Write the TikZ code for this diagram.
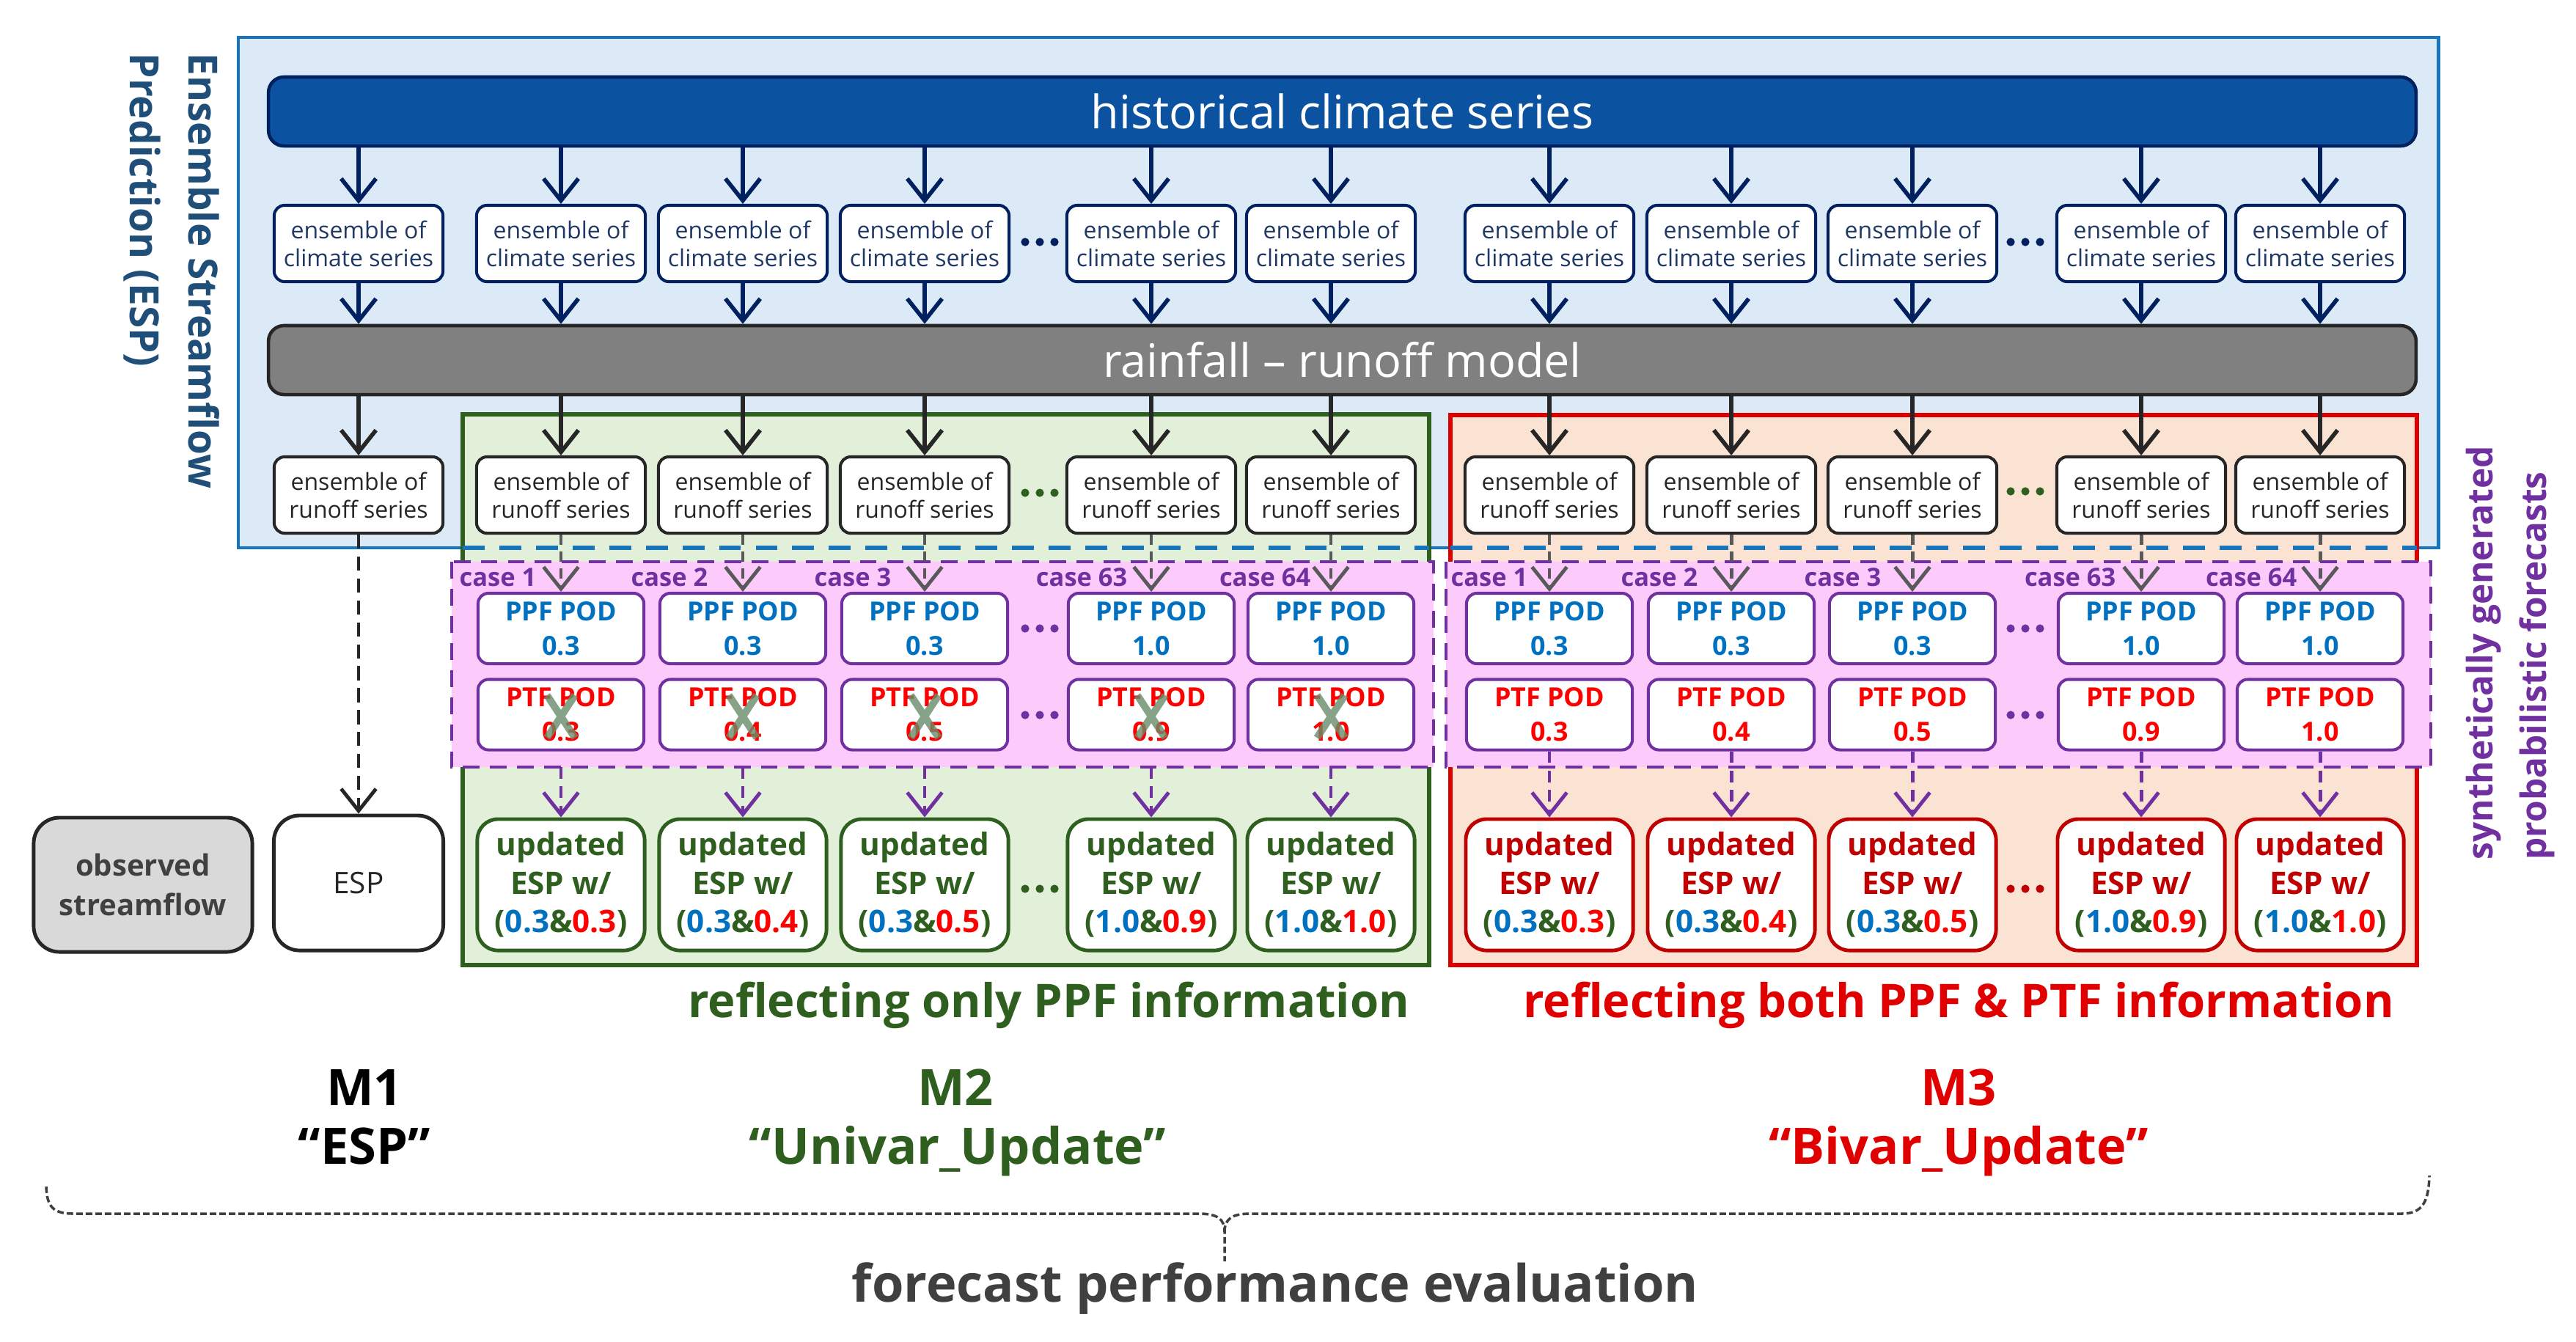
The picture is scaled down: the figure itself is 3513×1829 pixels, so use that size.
\documentclass[tikz,border=0pt]{standalone}
\usepackage{fontspec}
\setmainfont{Open Sans}
\usetikzlibrary{arrows.meta}
\definecolor{navy}{HTML}{002060}
\definecolor{navytxt}{HTML}{1F3864}
\definecolor{barblue}{HTML}{0B53A0}
\definecolor{outerblue}{HTML}{1874BB}
\definecolor{outerfill}{HTML}{DCEAF7}
\definecolor{gbarfill}{HTML}{808080}
\definecolor{dk}{HTML}{262626}
\definecolor{dgreen}{HTML}{2F5F1F}
\definecolor{gfill}{HTML}{E2F0D9}
\definecolor{rborder}{HTML}{DC0000}
\definecolor{rtext}{HTML}{E00000}
\definecolor{rfill}{HTML}{FBE3D4}
\definecolor{pinkf}{HTML}{FCCBFC}
\definecolor{purp}{HTML}{7030A0}
\definecolor{ppfblue}{HTML}{0070C0}
\definecolor{ptfred}{HTML}{FF0000}
\definecolor{dred}{HTML}{C00000}
\definecolor{txtgray}{HTML}{404040}
\definecolor{xgreen}{HTML}{6A8C6A}
\definecolor{obsfill}{HTML}{D9D9D9}
\definecolor{dashgray}{HTML}{595959}
\definecolor{enstxt}{HTML}{1F4E79}
\tikzset{
  climbox/.style={draw=navy, line width=1.15pt, fill=white, rounded corners=4pt,
    minimum width=2.3cm, minimum height=1.04cm, inner sep=0pt, align=center,
    text=navytxt, font=\fontsize{9.1}{10.8}\selectfont},
  runbox/.style={climbox, draw=dk, text=dk},
  podbox/.style={draw=purp, line width=1.15pt, fill=white, rounded corners=4pt,
    minimum width=2.26cm, minimum height=0.96cm, inner sep=0pt, align=center,
    font=\bfseries\fontsize{10.2}{13.4}\selectfont},
  ppfbox/.style={podbox, text=ppfblue},
  ptfbox/.style={podbox, text=ptfred},
  updbox/.style={draw=dgreen, line width=1.4pt, fill=white, rounded corners=8pt,
    minimum width=2.28cm, minimum height=1.79cm, inner sep=0pt, align=center,
    text=dgreen, font=\bfseries\fontsize{12}{15}\selectfont},
  updboxr/.style={updbox, draw=dred, text=dred},
  bar/.style={line width=1.3pt, rounded corners=6pt, minimum width=29.27cm,
    minimum height=0.94cm, inner sep=0pt, text=white, font=\fontsize{17.9}{20}\selectfont},
  arrowhd/.style={-{Straight Barb[length=8.5pt,width=13.5pt]}},
  solidarr/.style={arrowhd, line width=1.6pt},
  grayarr/.style={arrowhd, line width=1.4pt, draw=dashgray, dash pattern=on 4pt off 2.5pt},
  purarr/.style={arrowhd, line width=1.4pt, draw=purp, dash pattern=on 4.5pt off 3pt},
  caselab/.style={text=purp, font=\bfseries\fontsize{9.8}{11}\selectfont, inner sep=0pt, anchor=base east},
  xstroke/.style={draw=xgreen, opacity=0.8, line width=2.8pt},
  bigtxt/.style={font=\bfseries\fontsize{18}{20}\selectfont, inner sep=0pt, anchor=base},
  mlab/.style={font=\bfseries\fontsize{19.5}{22}\selectfont, inner sep=0pt, anchor=base},
  bracestyle/.style={draw=txtgray, line width=1pt, dash pattern=on 2.5pt off 1.2pt},
}
\newcommand\mydots[3]{\fill[#3] (#1-20,#2) circle[radius=1.6pt] (#1,#2) circle[radius=1.6pt] (#1+20,#2) circle[radius=1.6pt];}
\begin{document}
\begin{tikzpicture}[x=0.01cm,y=-0.01cm]
\useasboundingbox (0,0) rectangle (3513,1829);
\fill[white] (0,0) rectangle (3513,1829);

% outer ESP box
\draw[outerblue, fill=outerfill, line width=1.4pt] (325,51) rectangle (3325,747);

% bars
\node[bar, draw=navy, fill=barblue] (hist) at (1830.5,152) {historical climate series};
\node[bar, draw=dk, fill=gbarfill] (gbar) at (1830.5,491) {rainfall -- runoff model};

% climate boxes
\foreach \i/\x in {1/489,2/765,3/1013,4/1261,5/1570,6/1815,7/2113,8/2361,9/2608,10/2920,11/3164}{
  \node[climbox] (cl\i) at (\x,332) {ensemble of\\climate series};
  \draw[solidarr, navy] (cl\i.north |- hist.south) -- (cl\i.north);
  \draw[solidarr, navy] (cl\i.south) -- (cl\i.south |- gbar.north);
}

% M2 / M3 frames
\draw[dgreen, fill=gfill, line width=1.7pt] (631,565) rectangle (1949,1316);
\draw[rborder, fill=rfill, line width=1.7pt] (1978,566) rectangle (3296,1316);
\draw[outerblue, line width=1.7pt, dash pattern=on 8.5pt off 5.7pt] (631,747) -- (1949,747) (1978,747) -- (3296,747);

% runoff boxes
\foreach \i/\x in {1/489,2/765,3/1013,4/1261,5/1570,6/1815,7/2113,8/2361,9/2608,10/2920,11/3164}{
  \node[runbox] (rn\i) at (\x,675) {ensemble of\\runoff series};
  \draw[solidarr, dk] (rn\i.north |- gbar.south) -- (rn\i.north);
}

% synthetic forecast areas
\draw[purp, fill=pinkf, line width=1.2pt, dash pattern=on 6.5pt off 4pt] (616,766) rectangle (1955,1046);
\draw[purp, fill=pinkf, line width=1.2pt, dash pattern=on 6.5pt off 4pt] (1972,766) rectangle (3315,1046);
\coordinate (pinkB) at (616,1046);

% observed and ESP
\node[draw=dk, fill=obsfill, line width=1.4pt, rounded corners=10pt, minimum width=2.98cm,
  minimum height=1.83cm, align=center, inner sep=0pt, text=txtgray,
  font=\bfseries\fontsize{11.4}{15.2}\selectfont] (obs) at (195,1206.5) {observed\\streamflow};
\node[draw=dk, fill=white, line width=1.4pt, rounded corners=10pt, minimum width=2.31cm,
  minimum height=1.84cm, inner sep=0pt, text=dk, font=\fontsize{11.5}{14}\selectfont] (esp) at (489,1204) {ESP};
\draw[arrowhd, line width=1.4pt, dk, dash pattern=on 5.5pt off 3pt] (rn1.south) -- (esp.north);

% M2 columns
\foreach \i/\x/\pv/\tv/\cv/\lx in {2/765/0.3/0.3/1/732,3/1013/0.3/0.4/2/966,4/1261/0.3/0.5/3/1216,5/1570/1.0/0.9/63/1538,6/1815/1.0/1.0/64/1788}{
  \node[ppfbox] (ppf\i) at (\x,857) {PPF POD\\\pv};
  \node[ptfbox] (ptf\i) at (\x,974.5) {PTF POD\\\tv};
  \draw[xstroke] (\x-19,948) -- (\x+19,1006) (\x+19,948) -- (\x-19,1006);
  \node[caselab] (case\i) at (\lx,799) {case \cv};
  \draw[grayarr] (rn\i.south) -- (ppf\i.north);
  \node[updbox] (upd\i) at (\x,1206.5) {updated\\ESP w/\\(\textcolor{ppfblue}{\pv}\&\textcolor{ptfred}{\tv})};
  \draw[purarr] (upd\i.north |- pinkB) -- (upd\i.north);
}
% M3 columns
\foreach \i/\x/\pv/\tv/\cv/\lx in {7/2113/0.3/0.3/1/2084,8/2361/0.3/0.4/2/2316,9/2608/0.3/0.5/3/2566,10/2920/1.0/0.9/63/2886,11/3164/1.0/1.0/64/3133}{
  \node[ppfbox] (ppf\i) at (\x,857) {PPF POD\\\pv};
  \node[ptfbox] (ptf\i) at (\x,974.5) {PTF POD\\\tv};
  \node[caselab] (case\i) at (\lx,799) {case \cv};
  \draw[grayarr] (rn\i.south) -- (ppf\i.north);
  \node[updboxr] (upd\i) at (\x,1206.5) {updated\\ESP w/\\\textcolor{dgreen}{(}\textcolor{ppfblue}{\pv}\textcolor{dgreen}{\&}\textcolor{ptfred}{\tv}\textcolor{dgreen}{)}};
  \draw[purarr] (ptf\i.south) -- (upd\i.north);
}

% ellipses
\mydots{1418}{330}{navy}
\mydots{2762}{330}{navy}
\mydots{1418}{672}{dgreen}
\mydots{2762}{670}{dgreen}
\mydots{1418}{857}{purp}
\mydots{2762}{857}{purp}
\mydots{1418}{975}{purp}
\mydots{2762}{975}{purp}
\mydots{1418}{1212}{dgreen}
\mydots{2762}{1212}{dred}

% side titles
\node[rotate=-90, anchor=north west, align=left, inner sep=0pt, text=enstxt,
  font=\bfseries\fontsize{15.6}{22.8}\selectfont] (ens) at (300,72) {Ensemble Streamflow\\Prediction (ESP)};
\node[rotate=90, anchor=north west, align=left, inner sep=0pt, text=purp,
  font=\bfseries\fontsize{13.6}{20.8}\selectfont] (syn) at (3362,1173) {synthetically generated\\probabilistic forecasts};

% bottom texts
\node[bigtxt, text=dgreen] (reflA) at (1430,1387) {reflecting only PPF information};
\node[bigtxt, text=rtext] (reflB) at (2671,1387) {reflecting both PPF \& PTF information};
\node[mlab, text=black] (m1) at (497,1507) {M1};
\node[mlab, text=black] (m1n) at (497,1587) {“ESP”};
\node[mlab, text=dgreen] (m2) at (1303,1507) {M2};
\node[mlab, text=dgreen] (m2n) at (1306,1587) {“Univar\_Update”};
\node[mlab, text=rtext] (m3) at (2671,1507) {M3};
\node[mlab, text=rtext] (m3n) at (2671,1587) {“Bivar\_Update”};

% brace
\draw[bracestyle] (63,1618) .. controls (64,1645) and (72,1655) .. (100,1655)
  -- (1635,1655) .. controls (1660,1655) and (1670,1662) .. (1670,1680) -- (1670,1720);
\draw[bracestyle] (1670,1680) .. controls (1670,1662) and (1680,1655) .. (1705,1655)
  -- (3275,1655) .. controls (3303,1655) and (3312,1640) .. (3313,1603);
\node[font=\bfseries\fontsize{20}{22}\selectfont, text=txtgray, inner sep=0pt, anchor=base] (eval) at (1739,1775) {forecast performance evaluation};
\end{tikzpicture}
\end{document}
